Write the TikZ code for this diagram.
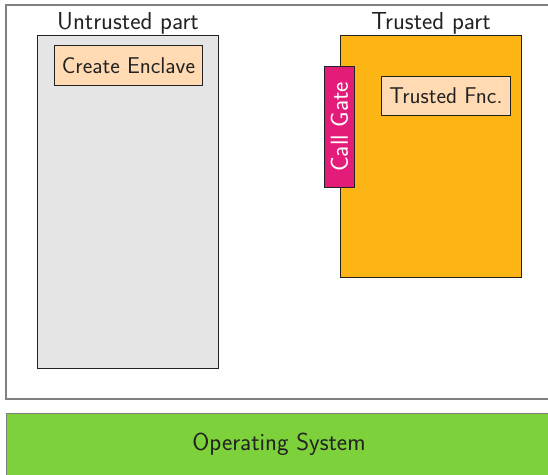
\documentclass[tikz,border=0pt]{standalone}
\usepackage{tikz}
\definecolor{boxgray}{HTML}{E5E5E5}
\definecolor{peach}{HTML}{FFDAB3}
\definecolor{gold}{HTML}{FDB515}
\definecolor{magentapink}{HTML}{E31C79}
\definecolor{osgreen}{HTML}{7DD13B}
\definecolor{txt}{HTML}{222222}
\definecolor{frame}{HTML}{808080}
\begin{document}
\begin{tikzpicture}[x=1pt,y=-1pt,
  every node/.style={font=\sffamily\fontsize{24.6}{29}\selectfont, text=txt},
  boxtext/.style={font=\sffamily\fontsize{22.8}{27}\selectfont},
  partbox/.style={draw=txt, line width=0.9pt},
  fncbox/.style={draw=txt, line width=0.9pt, fill=peach, inner sep=0pt}]
\useasboundingbox (0,0) rectangle (548,474);
\clip (0,0) rectangle (548,474);
\fill[white] (0,0) rectangle (548,474);
% outer frame
\draw[frame, line width=1.4pt] (6,5) rectangle (570,399);
% OS
\node[draw=frame, line width=1pt, fill=osgreen, minimum width=564, minimum height=80, anchor=north west, inner sep=0pt] (os) at (6,413) {};
\node at (279,444) {Operating System};
% untrusted
\node[partbox, fill=boxgray, minimum width=181, minimum height=333, anchor=north west, inner sep=0pt] (untrusted) at (37,35) {};
\node[anchor=base] (ulabel) at (128,29) {Untrusted part};
\node[fncbox, minimum width=148, minimum height=40, anchor=north west] (create) at (54,45) {};
\node[boxtext] at (create.center) {Create Enclave};
% trusted
\node[partbox, fill=gold, minimum width=181, minimum height=242, anchor=north west, inner sep=0pt] (trusted) at (340,35) {};
\node[anchor=base] (tlabel) at (431,29) {Trusted part};
\node[fncbox, minimum width=129, minimum height=39, anchor=north west] (tfnc) at (381,76) {};
\node[boxtext] at (tfnc.center) {Trusted Fnc.};
\node[draw=txt, line width=0.9pt, fill=magentapink, minimum width=30, minimum height=121, anchor=north west, inner sep=0pt] (gate) at (324,66) {};
\node[rotate=90, text=white] at (gate.center) {Call Gate};
\end{tikzpicture}
\end{document}
